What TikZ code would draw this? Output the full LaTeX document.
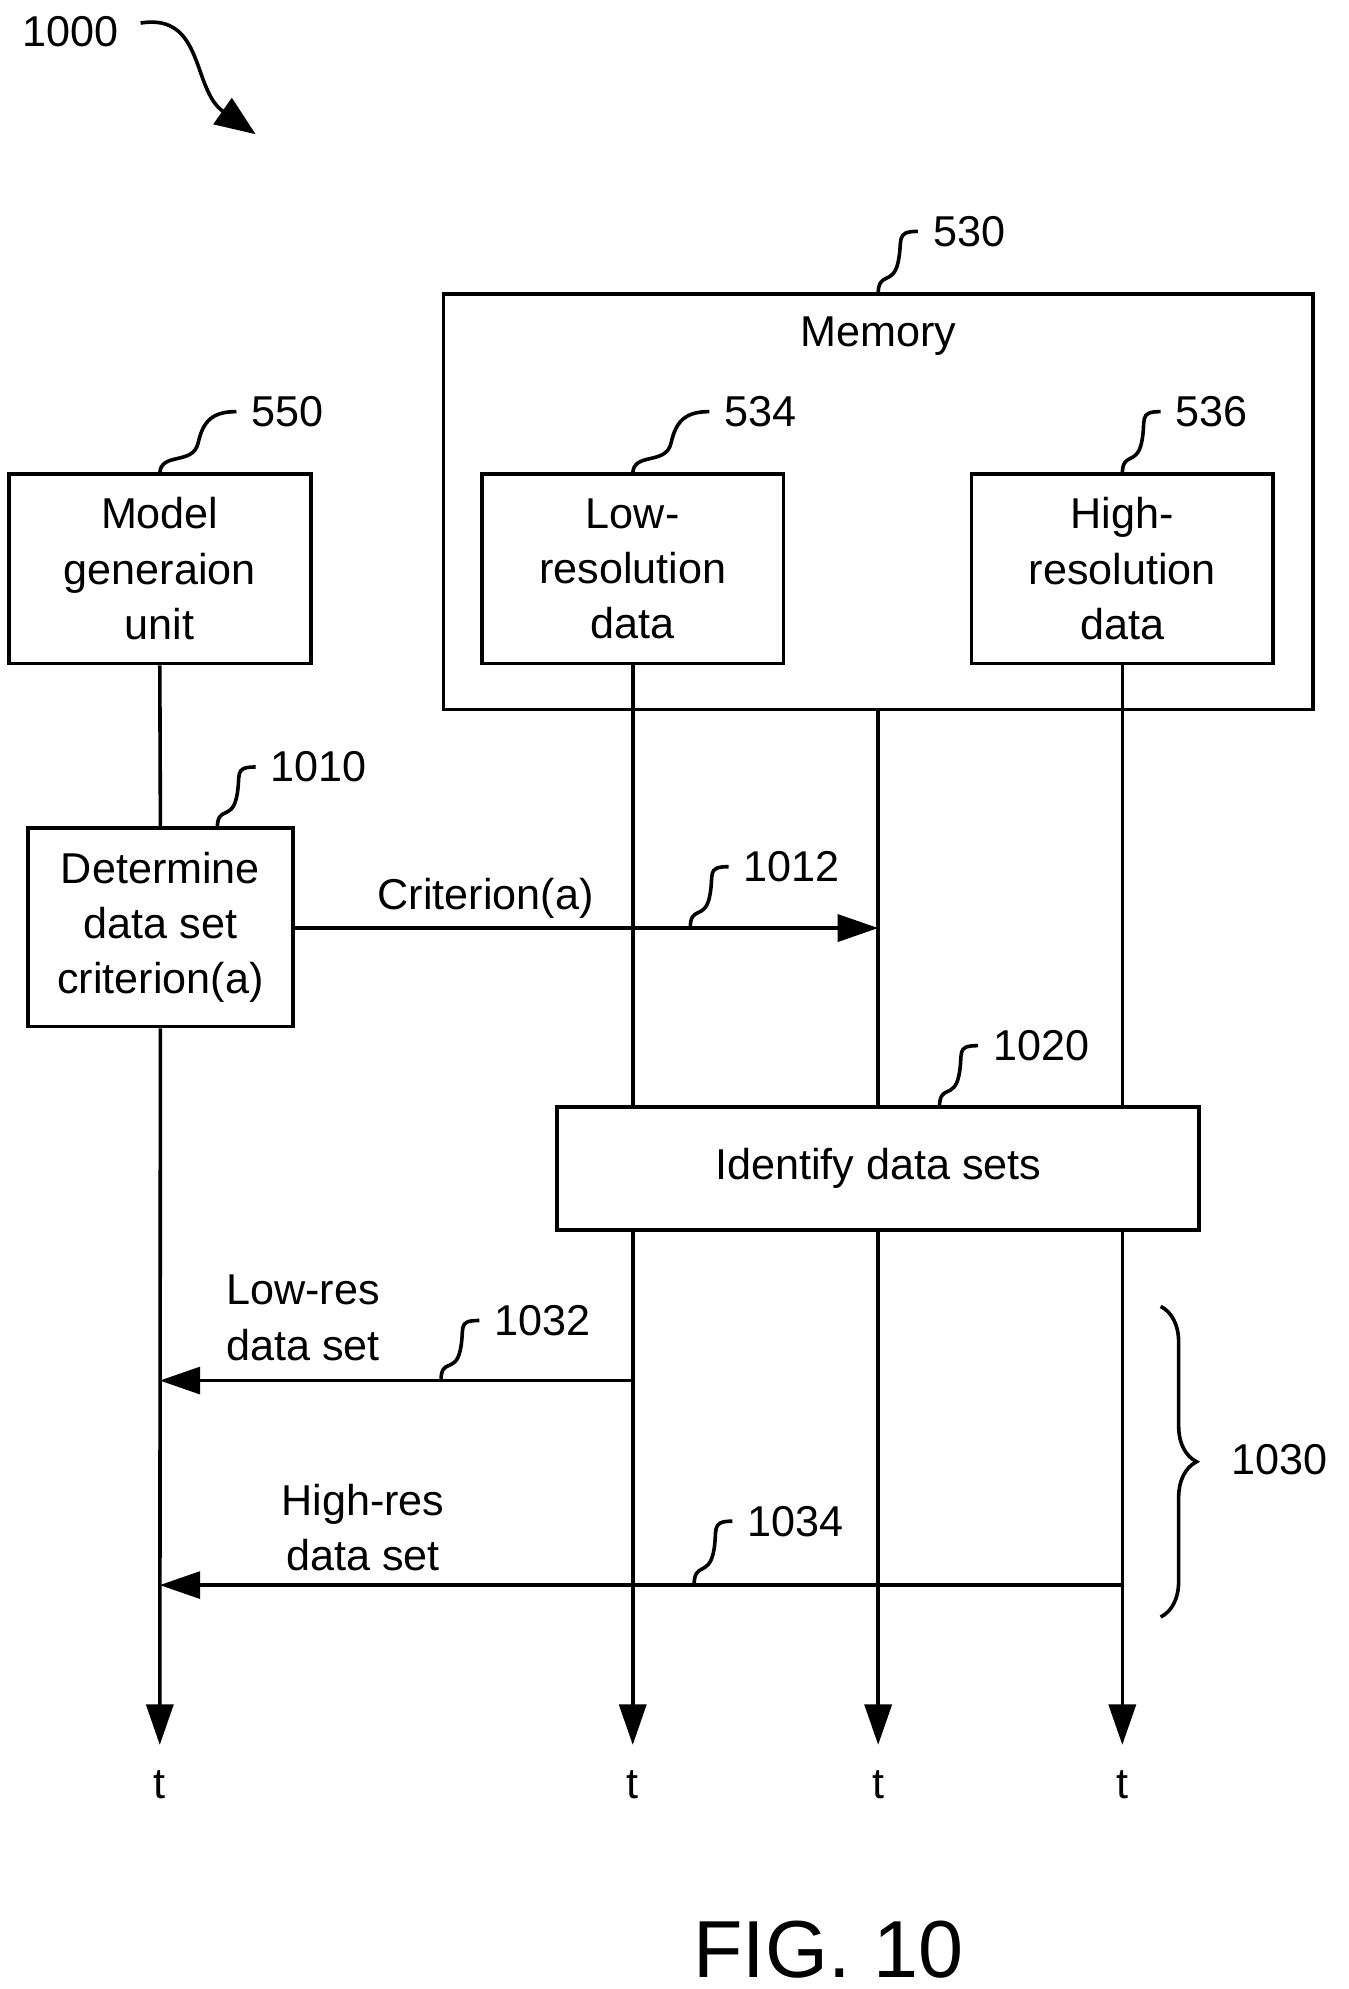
\documentclass[tikz,border=0pt]{standalone}
\usepackage{fontspec}
\setmainfont{Liberation Sans}
\usetikzlibrary{arrows.meta,decorations.pathreplacing,calc}
\newcommand{\refsq}[3]{% start, end, label
  \draw #1 .. controls +(0,-18) and +(-4,18) .. ($#1!0.5!#2$) .. controls +(4,-18) and +(-18,0) .. #2 node[right,inner sep=3pt] {#3};}
\begin{document}
\begin{tikzpicture}[x=0.01cm,y=-0.01cm,line width=0.8pt,
  font=\fontsize{9.6}{12.3}\selectfont]
\tikzset{box/.style={draw,align=center,inner sep=0pt},
  msg/.style={-{Triangle[length=9pt,width=6pt]}},
  life/.style={-{Triangle[length=9pt,width=6pt]}}}
\useasboundingbox (0,0) rectangle (1055,1556);

\node (num) at (55,25) {1000};
\draw[-{Triangle[length=9pt,width=7pt]}] (110,18) .. controls (160,10) and (150,70) .. (200,105);

% boxes
\node[box,minimum width=6.8cm,minimum height=3.25cm] (mem) at (687,392.5) {};
\node at (687,263) {Memory};
\node[box,minimum width=2.36cm,minimum height=1.48cm] (model) at (125,445) {Model\\generaion\\unit};
\node[box,minimum width=2.36cm,minimum height=1.48cm] (low) at (495,445) {Low-\\resolution\\data};
\node[box,minimum width=2.36cm,minimum height=1.48cm] (high) at (878,445) {High-\\resolution\\data};
\node[box,minimum width=2.07cm,minimum height=1.55cm] (det) at (125.5,725.5) {Determine\\data set\\criterion(a)};
\node[box,minimum width=5.02cm,minimum height=0.96cm] (ident) at (687,914) {Identify data sets};

% lifelines
\coordinate (t1) at (125,1365);
\coordinate (t2) at (495,1365);
\coordinate (t3) at (687,1365);
\coordinate (t4) at (878,1365);
\draw (model.south) -- (det.north);
\draw[life] (det.south) -- (t1) node[below=2pt] {t};
\draw (low.south) -- (low.south |- ident.north);
\draw[life] (low.south |- ident.south) -- (t2) node[below=2pt] {t};
\draw (mem.south) -- (ident.north);
\draw[life] (ident.south) -- (t3) node[below=2pt] {t};
\draw (high.south) -- (high.south |- ident.north);
\draw[life] (high.south |- ident.south) -- (t4) node[below=2pt] {t};

% messages
\coordinate (c1) at (687,726);
\draw[msg] (det.east |- c1) -- (c1);
\node (crit) at (380,703) {Criterion(a)};
\coordinate (lr) at (495,1080);
\draw[msg] (lr) -- (lr -| t1);
\node[align=left] (lrl) at (237,1031) {Low-res\\data set};
\coordinate (hr) at (878,1240);
\draw[msg] (hr) -- (hr -| t1);
\node[align=center] (hrl) at (284,1195) {High-res\\data set};

% reference numerals
\refsq{(687,230)}{(718,181)}{530}
\refsq{(125,371)}{(185,322)}{550}
\refsq{(495,371)}{(555,322)}{534}
\refsq{(878,371)}{(908,322)}{536}
\refsq{(170,648)}{(200,600)}{1010}
\refsq{(540,726)}{(570,678)}{1012}
\refsq{(735,866)}{(765,818)}{1020}
\refsq{(345,1080)}{(375,1033)}{1032}
\refsq{(543,1240)}{(573,1190)}{1034}

\draw[decorate,decoration={brace,amplitude=8pt}] (908,1022) -- (908,1265);
\node[right,inner sep=0pt] (br) at (962,1142) {1030};

\node[font=\fontsize{18}{21}\selectfont] (fig) at (648,1525) {FIG. 10};
\end{tikzpicture}
\end{document}
